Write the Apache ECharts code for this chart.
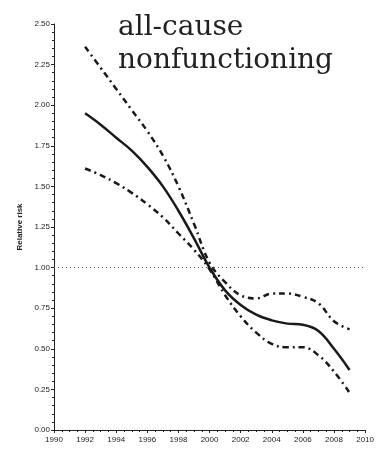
<!DOCTYPE html>
<html>
<head>
<meta charset="utf-8">
<script src="https://cdn.jsdelivr.net/npm/echarts@6/dist/echarts.min.js"></script>
<style>html,body{margin:0;padding:0;background:#fff;}#c{width:377px;height:454px;}</style>
</head>
<body>
<div id="c"></div>
<script>
var years = [1992,1993,1994,1995,1996,1997,1998,1999,2000,2001,2002,2003,2004,2005,2006,2007,2008,2009];
var rr    = [1.95,1.88,1.80,1.72,1.62,1.50,1.35,1.18,1.00,0.86,0.77,0.71,0.675,0.655,0.648,0.61,0.50,0.37];
var upper = [2.36,2.23,2.10,1.97,1.84,1.69,1.50,1.27,1.03,0.91,0.83,0.81,0.84,0.84,0.82,0.78,0.67,0.62];
var lower = [1.61,1.57,1.52,1.46,1.39,1.31,1.21,1.11,0.99,0.83,0.70,0.60,0.53,0.51,0.51,0.46,0.36,0.23];
var refValue = 1.0;
var titleText = 'all-cause\nnonfunctioning';
var yName = 'Relative risk';

function pairs(v){ return years.map(function(y,i){ return [y, v[i]]; }); }

var chart = echarts.init(document.getElementById('c'), null, {renderer:'canvas'});
var ink = '#222';
chart.setOption({
  backgroundColor: '#fff',
  animation: false,
  title: {
    text: titleText, left: 113, top: 6,
    textStyle: {fontFamily: 'DejaVu Serif', fontSize: 28, fontWeight: 'normal', color: '#222', lineHeight: 33}
  },
  grid: {left: 54, right: 9, top: 24, bottom: 24},
  xAxis: {
    type: 'value', min: 1990, max: 2010, interval: 2,
    axisLine: {lineStyle: {color: ink, width: 1}},
    axisTick: {show: true, length: 3, lineStyle: {color: ink}},
    minorTick: {show: true, splitNumber: 4, length: 2, lineStyle: {color: ink}},
    splitLine: {show: false},
    axisLabel: {color: ink, fontSize: 8, fontFamily: 'Liberation Sans', margin: 6, formatter: function(v){ return String(v); }}
  },
  yAxis: {
    type: 'value', min: 0, max: 2.5, interval: 0.25,
    name: yName, nameLocation: 'middle', nameGap: 30,
    nameTextStyle: {color: ink, fontSize: 8, fontWeight: 'bold', fontFamily: 'Liberation Sans'},
    axisLine: {show: true, lineStyle: {color: ink, width: 1}},
    axisTick: {show: true, length: 3, lineStyle: {color: ink}},
    minorTick: {show: true, splitNumber: 5, length: 2, lineStyle: {color: ink}},
    splitLine: {show: false},
    axisLabel: {color: ink, fontSize: 8, fontFamily: 'Liberation Sans', margin: 4, formatter: function(v){ return v.toFixed(2); }}
  },
  series: [
    {type: 'line', data: pairs(rr), smooth: 0.4, symbol: 'none', lineStyle: {color: '#1a1a1a', width: 2.5},
     markLine: {silent: true, symbol: 'none', label: {show: false},
       lineStyle: {color: '#555', type: [1,3], width: 1},
       data: [{yAxis: refValue}]}},
    {type: 'line', data: pairs(upper), smooth: 0.4, symbol: 'none', lineStyle: {color: '#1a1a1a', width: 2.5, type: [6,4,2,4]}},
    {type: 'line', data: pairs(lower), smooth: 0.4, symbol: 'none', lineStyle: {color: '#1a1a1a', width: 2.5, type: [6,4,2,4]}}
  ]
});
</script>
</body>
</html>
